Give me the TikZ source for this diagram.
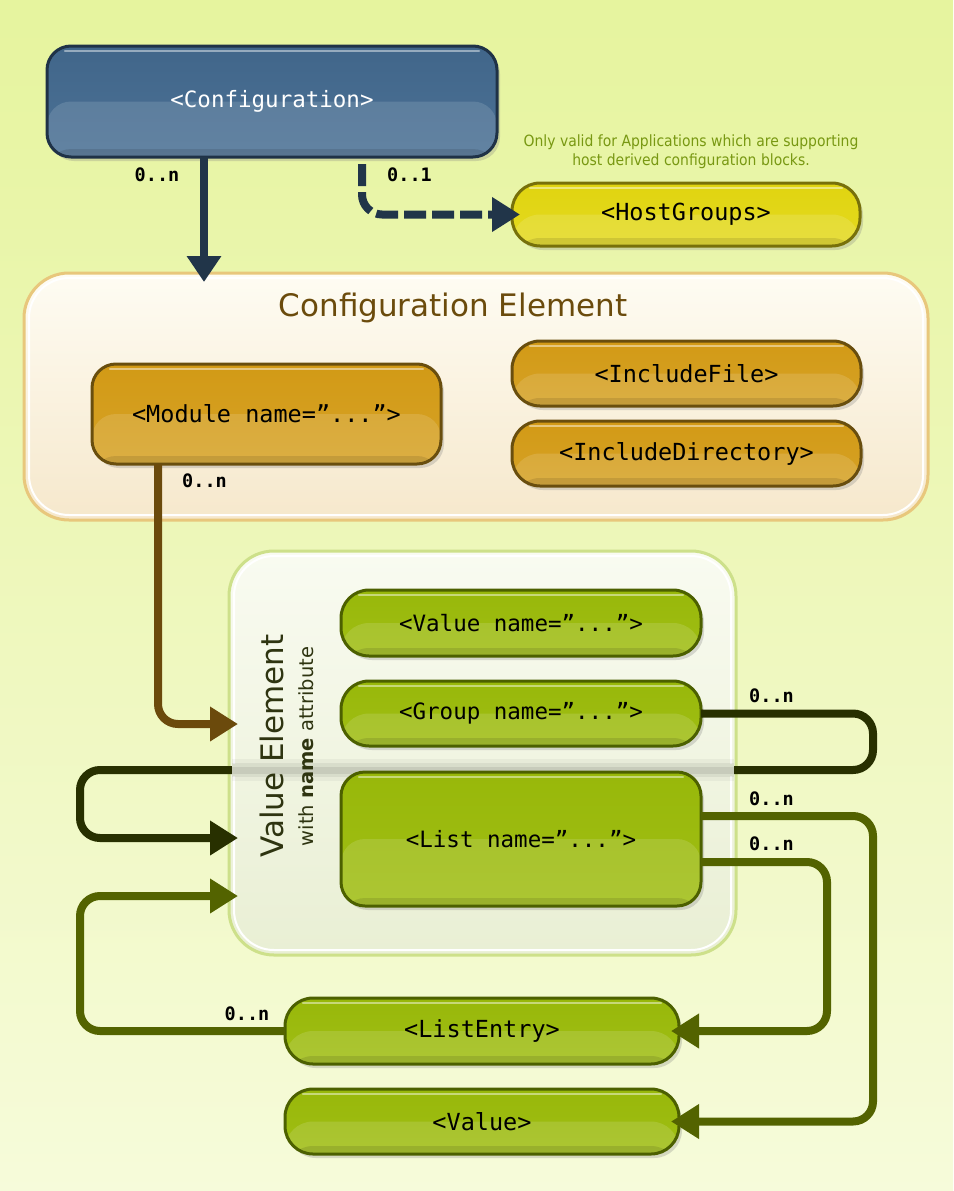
\documentclass[tikz,border=0pt]{standalone}
\usepackage{fontspec}
\setmainfont{DejaVu Sans}
\newfontfamily\monofont{DejaVu Sans Mono}
\newfontfamily\notefont[FakeStretch=0.9]{DejaVu Sans}
\usetikzlibrary{arrows.meta,shadows,calc}
\definecolor{bgtop}{HTML}{E6F49E}
\definecolor{bgbot}{HTML}{F6FBDA}
\definecolor{blueT}{HTML}{41668A}
\definecolor{blueBo}{HTML}{4B7195}
\definecolor{blueB}{HTML}{1F3247}
\definecolor{yelT}{HTML}{E0D410}
\definecolor{yelBo}{HTML}{E4DA20}
\definecolor{yelB}{HTML}{77700A}
\definecolor{orT}{HTML}{D29A16}
\definecolor{orBo}{HTML}{D6A226}
\definecolor{orB}{HTML}{694E0E}
\definecolor{grT}{HTML}{98B80A}
\definecolor{grBo}{HTML}{A0BE14}
\definecolor{grB}{HTML}{4C6000}
\definecolor{navy}{HTML}{213549}
\definecolor{brownc}{HTML}{6B4A0C}
\definecolor{darkc}{HTML}{283000}
\definecolor{olivec}{HTML}{536300}
\definecolor{ceB}{HTML}{E8C77C}
\definecolor{ceT}{HTML}{FEFCF3}
\definecolor{ceBo}{HTML}{F6E8CC}
\definecolor{veB}{HTML}{CDE08A}
\definecolor{veT}{HTML}{F9FBF1}
\definecolor{veBo}{HTML}{E9EFD4}
\definecolor{titlec}{HTML}{6B4B0C}
\definecolor{vetext}{HTML}{2E3410}
\definecolor{notec}{HTML}{789812}
\begin{document}
\begin{tikzpicture}[x=1pt,y=-1pt,
  every node/.style={outer sep=0pt},
  box/.style={rounded corners=24pt, line width=3pt, inner sep=0pt, align=center,
    font=\monofont\fontsize{23.5}{28}\selectfont,
    drop shadow={shadow xshift=3pt, shadow yshift=-4pt, opacity=0.28},
    path picture={
      \fill[white,opacity=0.13] (path picture bounding box.west) rectangle (path picture bounding box.south east);
      \fill[black,opacity=0.10] ([yshift=8pt]path picture bounding box.south west) rectangle (path picture bounding box.south east);
      \draw[white,opacity=0.45,line width=2.5pt,line cap=round] ([xshift=18pt,yshift=-5pt]path picture bounding box.north west) -- ([xshift=-18pt,yshift=-5pt]path picture bounding box.north east);
    }},
  bluebox/.style={box, draw=blueB, top color=blueT, bottom color=blueBo, text=white},
  yelbox/.style={box, draw=yelB, top color=yelT, bottom color=yelBo},
  orbox/.style={box, draw=orB, top color=orT, bottom color=orBo},
  grbox/.style={box, draw=grB, top color=grT, bottom color=grBo},
  smallmono/.style={font=\monofont\fontsize{22.5}{27}\selectfont},
  conn/.style={line width=8pt, rounded corners=20pt, -{Triangle[length=28pt,width=33pt]}},
  lab/.style={font=\monofont\bfseries\fontsize{18.5}{20}\selectfont, inner sep=0pt},
]
\useasboundingbox (0,0) rectangle (953,1191);
\fill[top color=bgtop, bottom color=bgbot] (0,0) rectangle (953,1191);

% containers
\node[rounded corners=45pt, line width=3pt, draw=ceB, top color=ceT, bottom color=ceBo,
  minimum width=904pt, minimum height=247pt] (ce) at (476,396.5) {};
\draw[white, line width=2pt, rounded corners=40pt] ([shift={(5pt,-5pt)}]ce.north west) rectangle ([shift={(-5pt,5pt)}]ce.south east);
\node[font=\fontsize{31}{36}\selectfont, text=titlec, anchor=base] (cetitle) at (453,316) {Configuration Element};

\node[rounded corners=45pt, line width=3pt, draw=veB, top color=veT, bottom color=veBo,
  minimum width=507pt, minimum height=404pt] (ve) at (482.5,753) {};
\draw[white, line width=2pt, rounded corners=40pt] ([shift={(5pt,-5pt)}]ve.north west) rectangle ([shift={(-5pt,5pt)}]ve.south east);

% boxes (top)
\node[bluebox, smallmono, minimum width=450pt, minimum height=111pt] (cfg) at (272,101.5) {<Configuration>};
\node[yelbox, minimum width=348pt, minimum height=63pt, rounded corners=28pt] (host) at (686,214.5) {<HostGroups>};
\node[orbox, minimum width=349pt, minimum height=100pt] (mod) at (266.5,414) {<Module name=”...”>};
\node[orbox, minimum width=349pt, minimum height=65pt, rounded corners=28pt] (incf) at (686.5,373.5) {<IncludeFile>};
\node[orbox, minimum width=349pt, minimum height=65pt, rounded corners=28pt] (incd) at (686.5,453.5) {<IncludeDirectory>};

% note
\node[font=\notefont\fontsize{15.5}{19}\selectfont, text=notec, align=center] (note) at (691,151.5)
  {Only valid for Applications which are supporting\\host derived configuration blocks.};

% value element boxes
\node[grbox, smallmono, minimum width=360pt, minimum height=66pt, rounded corners=28pt] (vname) at (521,623) {<Value name=”...”>};
\node[grbox, smallmono, minimum width=360pt, minimum height=65pt, rounded corners=28pt] (grp) at (521,713.5) {<Group name=”...”>};
\node[grbox, minimum width=394pt, minimum height=66pt, rounded corners=28pt] (le) at (482,1031) {<ListEntry>};
\node[grbox, minimum width=394pt, minimum height=65pt, rounded corners=28pt] (val) at (482,1121.5) {<Value>};

% connectors
\coordinate (k1) at (204,0);
\draw[conn, draw=navy, -{Triangle[length=26pt,width=33pt]}] (cfg.south -| k1) -- ([yshift=-9pt]ce.north -| k1);
\coordinate (k2) at (362,0);
\draw[conn, draw=navy, dash pattern=on 22pt off 6pt] ([yshift=-7pt]cfg.south -| k2) |- ([xshift=8pt]host.west);
\coordinate (k3) at (158,724);
\draw[conn, draw=brownc] (mod.south -| k3) |- ([xshift=9pt]ve.west |- k3);

\coordinate (k4a) at (873,770);
\coordinate (k4b) at (80,838);
\coordinate (band) at (0,770);
\draw[conn, draw=darkc] (grp.east) -| (k4a) -- (k4a -| k4b) |- ([xshift=9pt]ve.west |- k4b);
% the loop passes behind the value element container
\fill[veT!46!veBo] ([xshift=2.5pt,yshift=6pt]ve.west |- band) rectangle ([xshift=-2.5pt,yshift=-6pt]ve.east |- band);
\draw[black, opacity=0.04, line width=22pt] ([xshift=2.5pt]ve.west |- band) -- ([xshift=-2.5pt]ve.east |- band);
\draw[black, opacity=0.06, line width=14pt] ([xshift=2.5pt]ve.west |- band) -- ([xshift=-2.5pt]ve.east |- band);
\draw[black, opacity=0.08, line width=7pt] ([xshift=2.5pt]ve.west |- band) -- ([xshift=-2.5pt]ve.east |- band);

% value element labels
\node[rotate=90, anchor=base, font=\fontsize{31}{36}\selectfont, text=vetext] (vetitle) at (283,746) {Value Element};
\node[rotate=90, anchor=base, font=\fontsize{19.5}{22}\selectfont, text=vetext] (vesub) at (313,746.5) {with \textbf{name} attribute};

\node[grbox, smallmono, minimum width=360pt, minimum height=134pt] (lst) at (521,839) {<List name=”...”>};

\coordinate (k5) at (873,816);
\draw[conn, draw=olivec] (lst.east |- k5) -- (k5) |- ([xshift=-8pt]val.east);
\coordinate (k6) at (827,862);
\draw[conn, draw=olivec] (lst.east |- k6) -- (k6) |- ([xshift=-8pt]le.east);
\coordinate (k7) at (80,896);
\draw[conn, draw=olivec] (le.west) -| (k7) -- ([xshift=9pt]ve.west |- k7);

% multiplicity labels
\node[lab] (l1) at (157,175) {0..n};
\node[lab] (l2) at (409.5,175) {0..1};
\node[lab] (l3) at (204.5,481) {0..n};
\node[lab] (l4) at (771.5,696) {0..n};
\node[lab] (l5) at (771.5,798.5) {0..n};
\node[lab] (l6) at (771.5,843.5) {0..n};
\node[lab] (l7) at (247,1014) {0..n};
\end{tikzpicture}
\end{document}
